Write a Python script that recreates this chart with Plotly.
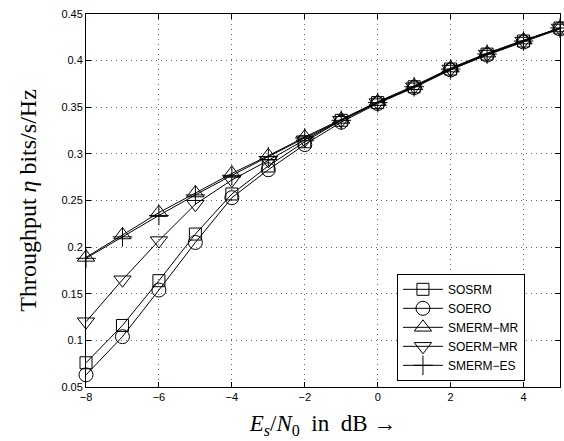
import plotly.graph_objects as go

snr = [-8, -7, -6, -5, -4, -3, -2, -1, 0, 1, 2, 3, 4, 5]
sosrm = [0.076, 0.116, 0.164, 0.214, 0.257, 0.287, 0.313, 0.336, 0.355, 0.372, 0.391, 0.407, 0.421, 0.435]
soero = [0.063, 0.104, 0.154, 0.205, 0.253, 0.283, 0.310, 0.334, 0.354, 0.371, 0.390, 0.406, 0.420, 0.434]
smerm_mr = [0.189, 0.213, 0.237, 0.258, 0.279, 0.298, 0.318, 0.337, 0.356, 0.373, 0.392, 0.408, 0.422, 0.435]
soerm_mr = [0.120, 0.165, 0.207, 0.246, 0.272, 0.293, 0.315, 0.336, 0.355, 0.372, 0.391, 0.407, 0.421, 0.435]
smerm_es = [0.188, 0.211, 0.234, 0.256, 0.277, 0.297, 0.317, 0.336, 0.355, 0.372, 0.391, 0.407, 0.421, 0.435]

names = ["SOSRM", "SOERO", "SMERM−MR", "SOERM−MR", "SMERM−ES"]
series = [sosrm, soero, smerm_mr, soerm_mr, smerm_es]
symbols = ["square-open", "circle-open", "triangle-up-open", "triangle-down-open", "cross-thin-open"]
sizes = [12, 14, 15, 15, 14]

fig = go.Figure()
for n, s, sym, sz in zip(names, series, symbols, sizes):
    fig.add_trace(go.Scatter(
        x=snr, y=s, name=n, mode="lines+markers",
        line=dict(color="black", width=1),
        marker=dict(symbol=sym, size=sz, color="black", line=dict(color="black", width=1)),
        cliponaxis=False,
    ))

axis_common = dict(
    showline=True, linecolor="black", linewidth=1, mirror="ticks",
    ticks="inside", ticklen=5, tickcolor="black",
    showgrid=True, gridcolor="rgba(0,0,0,0.6)", griddash="1px,4px", gridwidth=1,
    zeroline=False, automargin=False,
    tickfont=dict(family="Liberation Sans, Arial", size=11, color="black"),
)

fig.update_layout(
    width=564, height=441,
    margin=dict(l=86, r=4, t=14, b=54, autoexpand=False),
    paper_bgcolor="white", plot_bgcolor="white",
    xaxis=dict(range=[-8, 5], dtick=2, tick0=-8,
               title=dict(text="<i>E<sub>s</sub></i>/<i>N</i><sub>0</sub>&nbsp;&nbsp;in&nbsp;&nbsp;dB&nbsp;→",
                          font=dict(family="Liberation Serif, Times New Roman", size=23, color="black"),
                          standoff=12),
               **axis_common),
    yaxis=dict(range=[0.05, 0.45], dtick=0.05, tick0=0.05,
               title=dict(text="Throughput <i>η</i> bits/s/Hz",
                          font=dict(family="Liberation Serif, Times New Roman", size=24, color="black"),
                          standoff=17),
               **axis_common),
    legend=dict(x=0.656, y=0.16, xanchor="left", yanchor="middle",
                bgcolor="white", bordercolor="black", borderwidth=1,
                font=dict(family="Liberation Sans, Arial", size=12, color="black"),
                tracegroupgap=0, itemwidth=40),
    showlegend=True,
)

fig.write_html("out.html", config={"displayModeBar": False},
               post_script="document.body.style.margin='0';document.body.style.overflow='hidden';")
